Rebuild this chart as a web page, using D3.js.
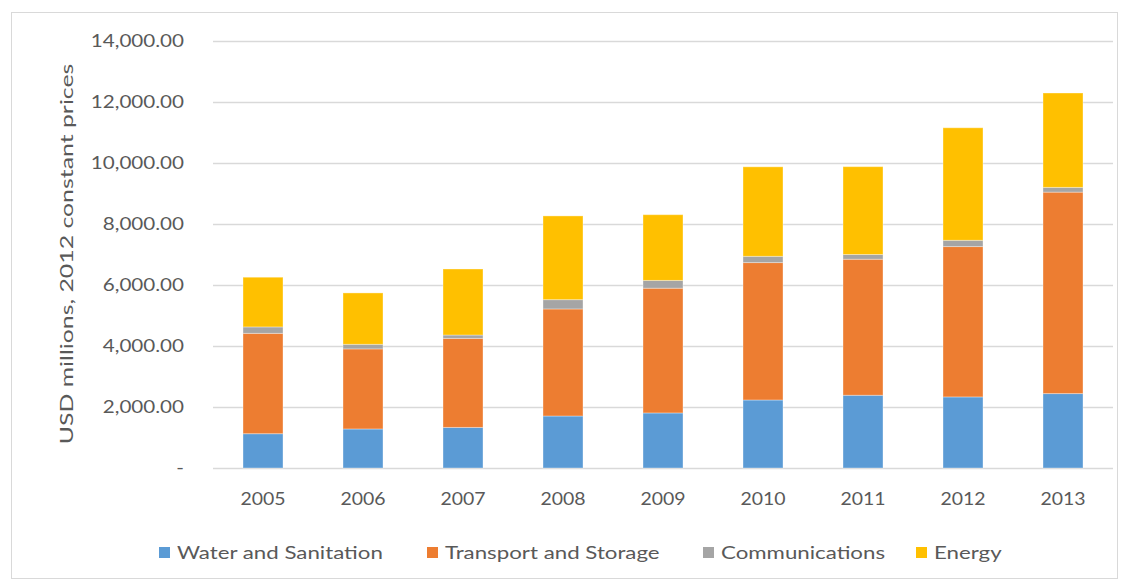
<!DOCTYPE html>
<html>
<head>
<meta charset="utf-8">
<script src="https://cdn.jsdelivr.net/npm/d3@7"></script>
<style>
  body { margin: 0; background: #fff; }
  svg text { font-family: "Lato", "Open Sans", sans-serif; fill: #595959; }
</style>
</head>
<body>
<svg id="chart" width="1128" height="582"></svg>
<script>
// data
var years = ["2005", "2006", "2007", "2008", "2009", "2010", "2011", "2012", "2013"];
var water = [1125, 1280, 1330, 1705, 1805, 2230, 2385, 2330, 2440];
var transport = [3290, 2625, 2920, 3510, 4090, 4505, 4460, 4930, 6605];
var comms = [210, 150, 110, 305, 255, 205, 155, 205, 155];
var energy = [1630, 1685, 2165, 2745, 2155, 2935, 2880, 3690, 3095];
var seriesNames = ["Water and Sanitation", "Transport and Storage", "Communications", "Energy"];
var yTicks = [0, 2000, 4000, 6000, 8000, 10000, 12000, 14000];

var colors = ["#5B9BD5", "#ED7D31", "#A5A5A5", "#FFC000"];
var keys = ["water", "transport", "comms", "energy"];

var rows = years.map(function(y, i) {
  return {year: y, water: water[i], transport: transport[i], comms: comms[i], energy: energy[i]};
});

var svg = d3.select("#chart");

// outer chart border
svg.append("rect")
  .attr("x", 11.5).attr("y", 12.5)
  .attr("width", 1106).attr("height", 566)
  .attr("fill", "none")
  .attr("stroke", "#D9D9D9");

var margin = {top: 41, left: 213, right: 15, bottom: 114};
var width = 900, height = 582 - margin.top - margin.bottom;

var g = svg.append("g")
  .attr("transform", "translate(" + margin.left + "," + margin.top + ")");

var x = d3.scaleBand()
  .domain(years)
  .range([0, width])
  .paddingInner(0.6)
  .paddingOuter(0.3);

var y = d3.scaleLinear()
  .domain([0, 14000])
  .range([427, 0]);

// gridlines
g.append("g")
  .selectAll("line")
  .data(yTicks)
  .join("line")
    .attr("x1", 0).attr("x2", width)
    .attr("y1", d => Math.round(y(d)) + 0.5)
    .attr("y2", d => Math.round(y(d)) + 0.5)
    .attr("stroke", "#D9D9D9")
    .attr("stroke-width", 1.4);

// y tick labels (the original text is drawn wide, so stretch horizontally)
var fmt = d3.format(",.2f");
g.append("g")
  .selectAll("text")
  .data(yTicks)
  .join("text")
    .attr("transform", d => "translate(-29," + (y(d) + 6) + ") scale(1.25,1)")
    .style("text-anchor", "end")
    .style("font-size", "16.5px")
    .text(d => d === 0 ? "-" : fmt(d));

// y axis title
svg.append("text")
  .attr("transform", "translate(73,254) rotate(-90) scale(1.38,1)")
  .style("text-anchor", "middle")
  .style("font-size", "18px")
  .text("USD millions, 2012 constant prices");

// stacked bars
var stack = d3.stack().keys(keys);
var layers = stack(rows);

g.append("g")
  .selectAll("g")
  .data(layers)
  .join("g")
    .attr("fill", (d, i) => colors[i])
  .selectAll("rect")
  .data(d => d)
  .join("rect")
    .attr("x", d => x(d.data.year))
    .attr("y", d => y(d[1]))
    .attr("width", x.bandwidth())
    .attr("height", d => y(d[0]) - y(d[1]))
    .attr("stroke", "#fff")
    .attr("stroke-opacity", 0.35)
    .attr("stroke-width", 1);

// x labels
g.append("g")
  .selectAll("text")
  .data(years)
  .join("text")
    .attr("transform", d => "translate(" + (x(d) + x.bandwidth() / 2) + ",464) scale(1.18,1)")
    .style("text-anchor", "middle")
    .style("font-size", "16.5px")
    .text(d => d);

// legend
var legendX = [159, 427, 703, 916];
var legend = svg.append("g")
  .selectAll("g")
  .data(seriesNames)
  .join("g")
    .attr("transform", (d, i) => "translate(" + legendX[i] + ",547)");

legend.append("rect")
  .attr("width", 11).attr("height", 11)
  .attr("fill", (d, i) => colors[i]);

legend.append("text")
  .attr("transform", "translate(18,12) scale(1.35,1)")
  .style("font-size", "16.5px")
  .text(d => d);
</script>
</body>
</html>
